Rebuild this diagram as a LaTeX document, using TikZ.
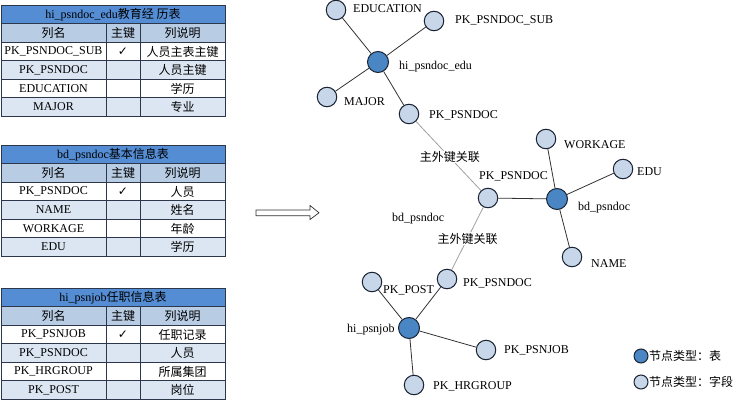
\documentclass[tikz,border=0pt]{standalone}
\usepackage{fontspec}
\setmainfont{Liberation Serif}
\newfontfamily\cjk{Noto Sans CJK SC}
\newfontfamily\symf{DejaVu Sans}
\definecolor{titlefill}{RGB}{84,141,212}
\definecolor{headfill}{RGB}{184,204,228}
\definecolor{altfill}{RGB}{220,230,242}
\definecolor{gridc}{RGB}{45,55,75}
\definecolor{tnode}{RGB}{74,134,196}
\definecolor{fnode}{RGB}{200,214,234}
\definecolor{nodeborder}{RGB}{25,35,50}
\definecolor{darkedge}{RGB}{50,50,50}
\definecolor{grayedge}{RGB}{160,160,160}
\tikzset{
  cell/.style={inner sep=0pt, font=\fontsize{12}{14}\selectfont},
  lbl/.style={inner sep=0pt, anchor=west, font=\fontsize{12}{14}\selectfont},
  tnodestyle/.style={circle, draw=nodeborder, line width=1pt, fill=tnode, minimum size=21pt, inner sep=0pt},
  fnodestyle/.style={circle, draw=nodeborder, line width=1pt, fill=fnode, minimum size=19.5pt, inner sep=0pt},
  dedge/.style={draw=darkedge, line width=0.8pt},
  gedge/.style={draw=grayedge, line width=0.8pt},
  elabel/.style={fill=white, inner sep=0.5pt, font=\fontsize{12}{14}\selectfont\cjk},
}
\newcommand{\dbtable}[4]{%
 \begin{scope}[shift={(0,#2)}]
 \fill[titlefill] (1,0) rectangle (225,18.5);
 \fill[headfill] (1,18.5) rectangle (225,37);
 \fill[altfill] (1,55.5) rectangle (225,74);
 \fill[altfill] (1,92.5) rectangle (225,111);
 \foreach \yy in {18.5,37,55.5,74,92.5} \draw[gridc,line width=0.6pt] (1,\yy) -- (225,\yy);
 \draw[gridc,line width=0.6pt] (106,18.5) -- (106,111) (140,18.5) -- (140,111);
 \draw[gridc, line width=0.9pt] (1,0) rectangle (225,111);
 \node[cell] (#1title) at (113,9.4) {#3};
 \node[cell] (#1h1) at (53.5,28) {\cjk 列名};
 \node[cell] (#1h2) at (123,28) {\cjk 主键};
 \node[cell] (#1h3) at (182.5,28) {\cjk 列说明};
 \foreach [count=\i] \a/\b/\c in {#4} {
   \node[cell] (#1a\i) at (53.5,28+18.5*\i) {\a};
   \node[cell] (#1b\i) at (123,28+18.5*\i) {\b};
   \node[cell] (#1c\i) at (182.5,28+18.5*\i) {\cjk \c};
 }
 \end{scope}}
\begin{document}
\begin{tikzpicture}[x=1pt,y=-1pt]
\useasboundingbox (0,0) rectangle (738,401);
% tables
\dbtable{ta}{5}{hi\_psndoc\_edu{\cjk 教育经 历表}}{PK\_PSNDOC\_SUB/{\symf ✓}/人员主表主键, PK\_PSNDOC//人员主键, EDUCATION//学历, MAJOR//专业}
\dbtable{tb}{145}{bd\_psndoc{\cjk 基本信息表}}{PK\_PSNDOC/{\symf ✓}/人员, NAME//姓名, WORKAGE//年龄, EDU//学历}
\dbtable{tc}{288}{hi\_psnjob{\cjk 任职信息表}}{PK\_PSNJOB/{\symf ✓}/任职记录, PK\_PSNDOC//人员, PK\_HRGROUP//所属集团, PK\_POST//岗位}
% arrow
\draw[darkedge, line width=0.7pt, fill=white] (256,210) -- (310,210) -- (310,205.5) -- (319,212.8) -- (310,219.5) -- (310,215.7) -- (256,215.7) -- cycle;
% graph nodes
\node[tnodestyle] (edu) at (378,62) {};
\node[fnodestyle] (education) at (336,10) {};
\node[fnodestyle] (sub) at (434,21) {};
\node[fnodestyle] (major) at (327,97) {};
\node[fnodestyle] (pk1) at (409,114) {};
\node[fnodestyle] (pk2) at (488,198) {};
\node[tnodestyle] (bd) at (557,199) {};
\node[fnodestyle] (workage) at (546,139) {};
\node[fnodestyle] (edun) at (623,169) {};
\node[fnodestyle] (name) at (572,257) {};
\node[fnodestyle] (pk3) at (447,279) {};
\node[fnodestyle] (post) at (372,282) {};
\node[tnodestyle] (job) at (409,328) {};
\node[fnodestyle] (psnjob) at (486,350) {};
\node[fnodestyle] (hrgroup) at (414,385) {};
% edges
\path[dedge] (edu) -- (education);
\path[dedge] (edu) -- (sub);
\path[dedge] (edu) -- (major);
\path[dedge] (edu) -- (pk1);
\path[gedge] (pk1) -- node[elabel, pos=0.52] (el1) {主外键关联} (pk2);
\path[dedge] (pk2) -- (bd);
\path[dedge] (bd) -- (workage);
\path[dedge] (bd) -- (edun);
\path[dedge] (bd) -- (name);
\path[gedge] (pk2) -- node[elabel, pos=0.5] (el2) {主外键关联} (pk3);
\path[dedge] (job) -- (post);
\path[dedge] (job) -- (pk3);
\path[dedge] (job) -- (psnjob);
\path[dedge] (job) -- (hrgroup);
% labels
\node[lbl] (l1) at (353,9) {EDUCATION};
\node[lbl] (l2) at (455,20) {PK\_PSNDOC\_SUB};
\node[lbl] (l3) at (399,67) {hi\_psndoc\_edu};
\node[lbl] (l4) at (344,102) {MAJOR};
\node[lbl] (l5) at (429,115) {PK\_PSNDOC};
\node[lbl] (l6) at (564,145) {WORKAGE};
\node[lbl] (l7) at (637,172) {EDU};
\node[lbl] (l8) at (479,176) {PK\_PSNDOC};
\node[lbl] (l9) at (578,208) {bd\_psndoc};
\node[lbl] (l10) at (591,264) {NAME};
\node[lbl] (l11) at (392,219) {bd\_psndoc};
\node[lbl] (l12) at (383,290) {PK\_POST};
\node[lbl] (l13) at (463,283) {PK\_PSNDOC};
\node[lbl] (l14) at (347,330) {hi\_psnjob};
\node[lbl] (l15) at (504,350) {PK\_PSNJOB};
\node[lbl] (l16) at (433,386) {PK\_HRGROUP};
% legend
\node[circle, draw=nodeborder, line width=1pt, fill=tnode, minimum size=14pt, inner sep=0pt] (lg1) at (641,356) {};
\node[circle, draw=nodeborder, line width=1pt, fill=fnode, minimum size=14pt, inner sep=0pt] (lg2) at (641,382) {};
\node[lbl, font=\fontsize{12}{14}\selectfont\cjk] (lt1) at (649,356) {节点类型：表};
\node[lbl, font=\fontsize{12}{14}\selectfont\cjk] (lt2) at (649,382) {节点类型：字段};
\end{tikzpicture}
\end{document}
